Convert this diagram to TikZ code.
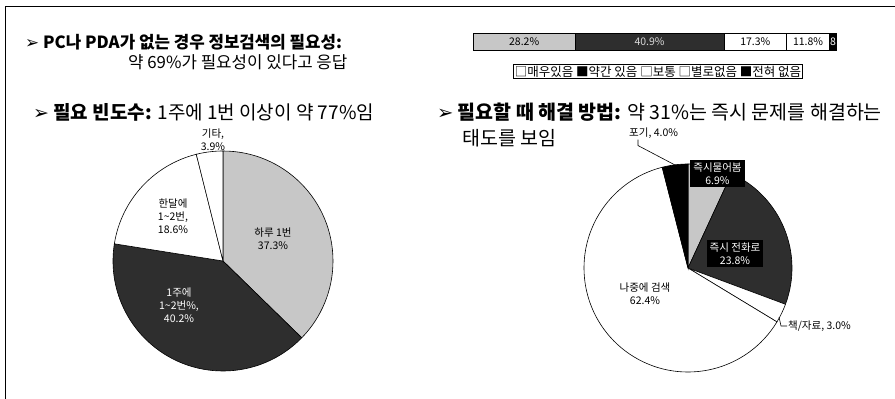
\documentclass[tikz,border=0pt]{standalone}
\usepackage{fontspec}
\setmainfont{Noto Sans CJK KR}
\newfontfamily\dejavu{DejaVu Sans}
\usetikzlibrary{positioning}
\tikzstyle{head} = [anchor=west, inner sep=0pt, font=\fontsize{19}{22}\selectfont]
\tikzstyle{headsm} = [head, font=\fontsize{16.8}{20}\selectfont]
\tikzstyle{lbl} = [align=center, inner sep=1pt, font=\fontsize{10.5}{13}\selectfont]
\tikzstyle{blbl} = [lbl, fill=black, text=white, inner sep=3pt]
\tikzstyle{seg} = [draw=black, line width=0.5pt]
\tikzstyle{slice} = [draw=black, line width=0.6pt]
\tikzstyle{leader} = [line width=0.6pt]
\colorlet{lightdot}{black!22}
\colorlet{darkdot}{black!82}
\newcommand{\arr}{{\dejavu ➢}}
\newcommand{\pieslice}[5]{\filldraw[slice, #5] (#1) -- ++(#3:#2) arc[start angle=#3, end angle=#4, radius=#2] -- cycle;}

\begin{document}
\begin{tikzpicture}[x=1pt, y=1pt]

\useasboundingbox (0,0) rectangle (895,-399);
\draw [line width=0.8pt] (5,-399) -- (5,-6) -- (895,-6);

% headers
\node (h1) [headsm] at (25,-42) {\arr\ \textbf{PC나 PDA가 없는 경우 정보검색의 필요성:}};
\node (h1b) [headsm] at (128,-62) {약 69\%가 필요성이 있다고 응답};
\node (h2) [head] at (33,-112) {\arr\ \textbf{필요 빈도수:} 1주에 1번 이상이 약 77\%임};
\node (h3) [head, font=\fontsize{19.5}{22}\selectfont] at (437,-112) {\arr\ \textbf{필요할 때 해결 방법:} 약 31\%는 즉시 문제를 해결하는};
\node (h3b) [head, font=\fontsize{19.5}{22}\selectfont] at (462,-138) {태도를 보임};

% bar
\filldraw [seg, fill=lightdot] (473,-33) rectangle (575.4,-50);
\filldraw [seg, fill=darkdot] (575.4,-33) rectangle (723.9,-50);
\filldraw [seg, fill=white] (723.9,-33) rectangle (786.7,-50);
\filldraw [seg, fill=white] (786.7,-33) rectangle (829.5,-50);
\filldraw [seg, fill=black] (829.5,-33) rectangle (836,-50);
\node (b1) [lbl] at (524.2,-41.5) {28.2\%};
\node (b2) [lbl, text=black!15] at (649.6,-41.5) {40.9\%};
\node (b3) [lbl] at (755.3,-41.5) {17.3\%};
\node (b4) [lbl] at (808.1,-41.5) {11.8\%};
\node (b5) [lbl, inner sep=0pt, text=white] at (833,-41.5) {8};
\node (legend) [draw, inner sep=1.5pt, font=\fontsize{12.5}{14}\selectfont] at (658,-71.5) {□매우있음 ■약간 있음 □보통 □별로없음 ■전혀 없음};

% left pie
\coordinate (lc) at (223,-261);
\pieslice{lc}{110}{90}{-44.28}{fill=lightdot}
\pieslice{lc}{110}{-44.28}{-189}{fill=darkdot}
\pieslice{lc}{110}{-189}{-255.96}{fill=white}
\pieslice{lc}{110}{-255.96}{-270}{fill=white}
\node (l1) [lbl] at (273,-239) {하루 1번\\37.3\%};
\node (l2) [lbl, text=white] at (179,-305) {1주에\\1\textasciitilde2번\%,\\40.2\%};
\node (l3) [lbl] at (173,-216) {한달에\\1\textasciitilde2번,\\18.6\%};
\node (l4) [lbl] at (213,-140) {기타,\\3.9\%};

% right pie
\coordinate (rc) at (688,-268);
\pieslice{rc}{104}{90}{65.18}{fill=lightdot}
\pieslice{rc}{104}{65.18}{-20.42}{fill=darkdot}
\pieslice{rc}{104}{-20.42}{-31.21}{fill=white}
\pieslice{rc}{104}{-31.21}{-255.63}{fill=white}
\pieslice{rc}{104}{-255.63}{-270}{fill=black}
\node (r1) [blbl] at (717.5,-173.5) {즉시물어봄\\6.9\%};
\node (r2) [blbl] at (735,-253.5) {즉시 전화로\\23.8\%};
\node (r3) [lbl] at (645,-294) {나중에 검색\\62.4\%};
\node (r4) [lbl, anchor=west] at (628,-133) {포기, 4.0\%};
\node (r5) [lbl, anchor=west] at (787,-326) {책/자료, 3.0\%};
\coordinate (r4b) at (675,-165);
\coordinate (r5b) at (779,-317);

\draw [leader] ([xshift=10pt]r4.south west) -- ++(0,-6) -- (r4b);
\draw [leader] (r5b) -- ++(2,-9) -- (r5.west);

\end{tikzpicture}
\end{document}
